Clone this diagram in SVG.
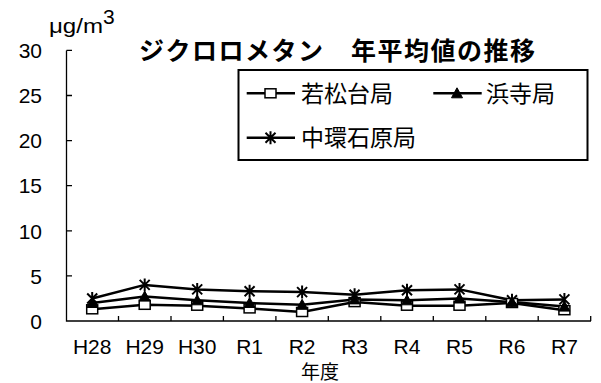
<svg xmlns="http://www.w3.org/2000/svg" width="601" height="383" viewBox="0 0 601 383">
<style>
.lbl{font-family:"Liberation Sans",Arial,sans-serif;font-size:21px;fill:#000}
.jp{font-family:"Noto Sans CJK JP","Noto Sans CJK SC",sans-serif;fill:#000}
.ax{stroke:#000;stroke-width:1.3;fill:none}
.ser{stroke:#000;stroke-width:2.5;fill:none;stroke-linejoin:round}
.sq{fill:#fff;stroke:#000;stroke-width:1.5}
.tri{fill:#000;stroke:#000;stroke-width:1}
.st{stroke:#000;stroke-width:2;fill:none}
</style>
<defs>
<g id="mSq"><rect x="-5.5" y="-4.5" width="11" height="9" class="sq"/></g>
<g id="mTri"><path d="M0,-5.5 L5.5,4.5 L-5.5,4.5 Z" class="tri"/></g>
<g id="mSt"><path d="M-5,-5 L5,5 M-5,5 L5,-5 M0,-6.5 L0,6.5" class="st"/></g>
</defs>
<rect width="601" height="383" fill="#fff"/>

<g id="title"><text x="139" y="60" class="jp" font-size="25" font-weight="bold" textLength="396" lengthAdjust="spacing">ジクロロメタン　年平均値の推移</text></g>

<g id="unit"><text x="49" y="33" class="lbl" textLength="54" lengthAdjust="spacingAndGlyphs">μg/m</text><text x="103" y="24" class="lbl" font-size="14">3</text></g>

<g id="axes">
<path class="ax" d="M66.5,50.4 L66.5,321 L591,321"/>
<path class="ax" d="M66.5,50.4 H72 M66.5,95.5 H72 M66.5,140.6 H72 M66.5,185.7 H72 M66.5,230.8 H72 M66.5,275.9 H72"/>
<path class="ax" d="M118.5,321 V316 M171,321 V316 M223.4,321 V316 M275.9,321 V316 M328.3,321 V316 M380.8,321 V316 M433.3,321 V316 M485.8,321 V316 M538.2,321 V316 M590.7,321 V316"/>
<g class="lbl" text-anchor="end">
<text x="42" y="58">30</text>
<text x="42" y="103">25</text>
<text x="42" y="148">20</text>
<text x="42" y="193">15</text>
<text x="42" y="238.5">10</text>
<text x="42" y="283.5">5</text>
<text x="42" y="328.5">0</text>
</g>
<g class="lbl" text-anchor="middle">
<text x="92.2" y="354">H28</text>
<text x="144.7" y="354">H29</text>
<text x="197.2" y="354">H30</text>
<text x="249.6" y="354">R1</text>
<text x="302.1" y="354">R2</text>
<text x="354.6" y="354">R3</text>
<text x="407" y="354">R4</text>
<text x="459.5" y="354">R5</text>
<text x="512" y="354">R6</text>
<text x="564.4" y="354">R7</text>
</g>
<text x="320" y="379" class="jp" font-size="19" text-anchor="middle">年度</text>
</g>

<g id="connectors">
<polyline class="ser" points="92.2,309.3 144.7,304.8 197.2,305.7 249.6,308.4 302.1,312 354.6,302.1 407,305.7 459.5,305.7 512,303 564.4,310.2"/>
<polyline class="ser" points="92.2,303 144.7,296.6 197.2,300.3 249.6,303 302.1,304.8 354.6,299.4 407,300.3 459.5,298.5 512,302.1 564.4,306.6"/>
<polyline class="ser" points="92.2,298.5 144.7,284.9 197.2,289.4 249.6,291.2 302.1,292.1 354.6,294.8 407,290.3 459.5,289.4 512,300.3 564.4,299.4"/>
</g>

<g id="series-wakamatsudai">
<use href="#mSq" x="92.2" y="309.3"/><use href="#mSq" x="144.7" y="304.8"/><use href="#mSq" x="197.2" y="305.7"/><use href="#mSq" x="249.6" y="308.4"/><use href="#mSq" x="302.1" y="312"/><use href="#mSq" x="354.6" y="302.1"/><use href="#mSq" x="407" y="305.7"/><use href="#mSq" x="459.5" y="305.7"/><use href="#mSq" x="512" y="303"/><use href="#mSq" x="564.4" y="310.2"/>
</g>
<g id="series-hamadera">
<use href="#mTri" x="92.2" y="303"/><use href="#mTri" x="144.7" y="296.6"/><use href="#mTri" x="197.2" y="300.3"/><use href="#mTri" x="249.6" y="303"/><use href="#mTri" x="302.1" y="304.8"/><use href="#mTri" x="354.6" y="299.4"/><use href="#mTri" x="407" y="300.3"/><use href="#mTri" x="459.5" y="298.5"/><use href="#mTri" x="512" y="302.1"/><use href="#mTri" x="564.4" y="306.6"/>
</g>
<g id="series-nakakan">
<use href="#mSt" x="92.2" y="298.5"/><use href="#mSt" x="144.7" y="284.9"/><use href="#mSt" x="197.2" y="289.4"/><use href="#mSt" x="249.6" y="291.2"/><use href="#mSt" x="302.1" y="292.1"/><use href="#mSt" x="354.6" y="294.8"/><use href="#mSt" x="407" y="290.3"/><use href="#mSt" x="459.5" y="289.4"/><use href="#mSt" x="512" y="300.3"/><use href="#mSt" x="564.4" y="299.4"/>
</g>

<g id="legend">
<rect x="238.5" y="70" width="349" height="90" fill="#fff" stroke="#000" stroke-width="2"/>
<path class="ser" stroke-width="2" d="M246.7,93.3 H295"/>
<use href="#mSq" x="270.5" y="93.3"/>
<text x="301" y="101.5" class="jp" font-size="23">若松台局</text>
<path class="ser" stroke-width="2" d="M433.3,93.3 H481.7"/>
<use href="#mTri" x="457" y="93.3"/>
<text x="486" y="101.5" class="jp" font-size="23">浜寺局</text>
<path class="ser" stroke-width="2" d="M246.7,137.7 H295"/>
<use href="#mSt" x="270.5" y="137.7"/>
<text x="301" y="146" class="jp" font-size="23">中環石原局</text>
</g>
</svg>
